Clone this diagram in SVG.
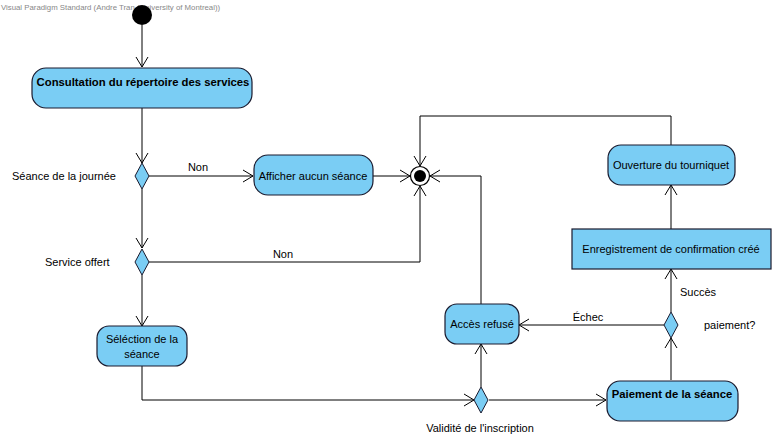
<svg xmlns="http://www.w3.org/2000/svg" width="774" height="438" viewBox="0 0 774 438">
<style>
.act{fill:#7ACDF4;stroke:#1a1a2e;stroke-width:1.2}
.dec{fill:#7ACDF4;stroke:#1a1a2e;stroke-width:1}
.t{font-family:"Liberation Sans",Arial,sans-serif;font-size:11px;fill:#000}
.b{font-family:"Liberation Sans",Arial,sans-serif;font-size:11.3px;font-weight:bold;fill:#000}
.c{text-anchor:middle}
.e{fill:none;stroke:#000;stroke-width:1}
</style>
<defs>
<marker id="arr" viewBox="-12 -7 14 14" refX="0" refY="0" markerWidth="14" markerHeight="14" markerUnits="userSpaceOnUse" orient="auto">
<path d="M-10,-6 L0,0 L-10,6" fill="none" stroke="#000" stroke-width="1"/>
</marker>
</defs>
<rect width="774" height="438" fill="#fff"/>
<text x="1" y="10" font-family="Liberation Sans,Arial,sans-serif" font-size="7.8" fill="#888">Visual Paradigm Standard (Andre Tran (University of Montreal))</text>
<g id="connectors">
<path class="e" d="M142,25 V67" marker-end="url(#arr)"/>
<path class="e" d="M142,108 V163" marker-end="url(#arr)"/>
<path class="e" d="M149,176 H253" marker-end="url(#arr)"/>
<path class="e" d="M373,176 H410" marker-end="url(#arr)"/>
<path class="e" d="M142,189 V248" marker-end="url(#arr)"/>
<path class="e" d="M149,262 H420 V186" marker-end="url(#arr)"/>
<path class="e" d="M142,275 V326" marker-end="url(#arr)"/>
<path class="e" d="M142,366 V400 H474" marker-end="url(#arr)"/>
<path class="e" d="M481,387 V344" marker-end="url(#arr)"/>
<path class="e" d="M489,400 H606" marker-end="url(#arr)"/>
<path class="e" d="M481,304 V176 H430" marker-end="url(#arr)"/>
<path class="e" d="M671,380 V338" marker-end="url(#arr)"/>
<path class="e" d="M664,325 H519" marker-end="url(#arr)"/>
<path class="e" d="M671,312 V269" marker-end="url(#arr)"/>
<path class="e" d="M671,229 V185" marker-end="url(#arr)"/>
<path class="e" d="M671,145 V116 H420 V166" marker-end="url(#arr)"/>
<text class="t c" x="198" y="171">Non</text>
<text class="t c" x="283" y="258">Non</text>
<text class="t c" x="588" y="321">Échec</text>
<text class="t c" x="698" y="296">Succès</text>
</g>
<g id="initial"><circle cx="142" cy="15" r="10" fill="#000"/></g>
<g id="consultation">
<rect class="act" x="32" y="68" width="220" height="40" rx="14"/>
<text class="b c" x="143" y="86">Consultation du répertoire des services</text>
</g>
<g id="dec-seance">
<polygon class="dec" points="142,163 149,176 142,189 135,176"/>
<text class="t" x="12" y="180">Séance de la journée</text>
</g>
<g id="afficher">
<rect class="act" x="254" y="155" width="119" height="40" rx="14"/>
<text class="t c" x="313" y="180">Afficher aucun séance</text>
</g>
<g id="final">
<circle cx="420" cy="176" r="9.5" fill="#fff" stroke="#000" stroke-width="1.2"/>
<circle cx="420" cy="176" r="6" fill="#000"/>
</g>
<g id="dec-service">
<polygon class="dec" points="142,249 149,262 142,275 135,262"/>
<text class="t" x="45" y="266">Service offert</text>
</g>
<g id="selection">
<rect class="act" x="97" y="326" width="90" height="40" rx="12"/>
<text class="t c" x="142" y="343">Séléction de la</text>
<text class="t c" x="142" y="358">séance</text>
</g>
<g id="dec-validite">
<polygon class="dec" points="481,387 488,400 481,413 474,400"/>
<text class="t c" x="480" y="432">Validité de l'inscription</text>
</g>
<g id="acces">
<rect class="act" x="445" y="304" width="74" height="40" rx="12"/>
<text class="t c" x="482" y="328">Accès refusé</text>
</g>
<g id="paiement">
<rect class="act" x="607" y="381" width="131" height="40" rx="13"/>
<text class="b c" x="672" y="398">Paiement de la séance</text>
</g>
<g id="dec-paiement">
<polygon class="dec" points="671,312 678,325 671,338 664,325"/>
<text class="t" x="704" y="329">paiement?</text>
</g>
<g id="enregistrement">
<rect class="act" x="572" y="229" width="199" height="40"/>
<text class="t c" x="671" y="253">Enregistrement de confirmation créé</text>
</g>
<g id="ouverture">
<rect class="act" x="608" y="145" width="127" height="40" rx="13"/>
<text class="t c" x="671" y="169">Ouverture du tourniquet</text>
</g>
</svg>
